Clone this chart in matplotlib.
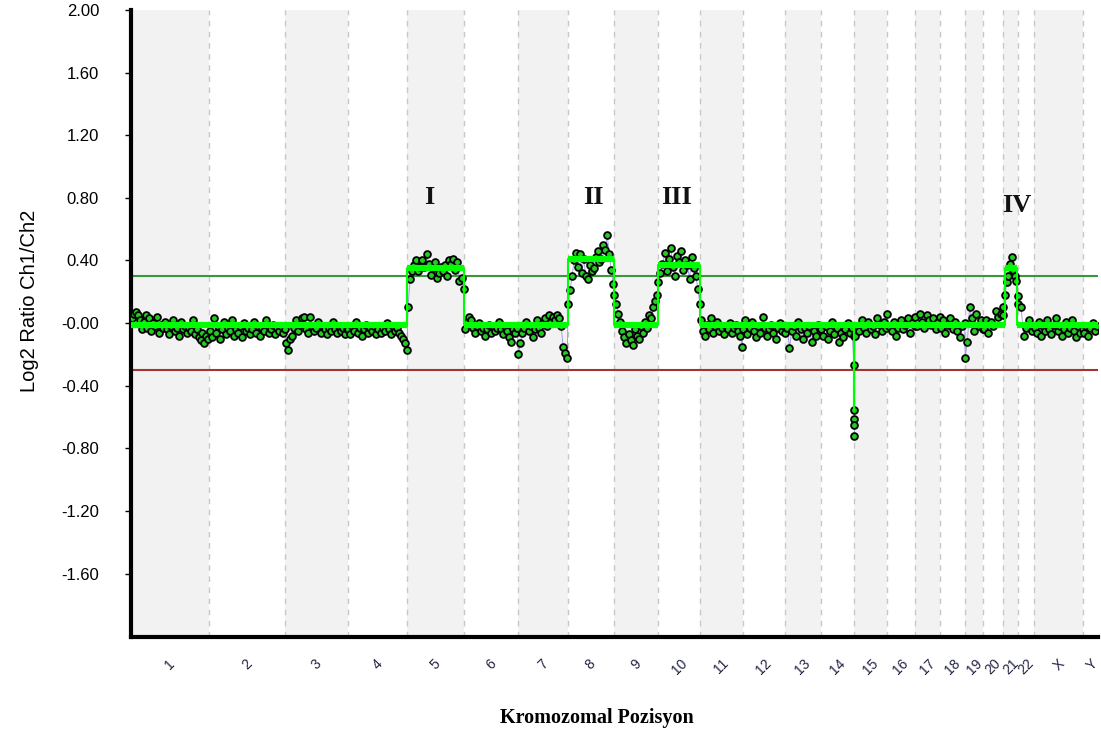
import numpy as np
import matplotlib.pyplot as plt

# chromosome names and lengths (Mb)
chroms = ['1', '2', '3', '4', '5', '6', '7', '8', '9', '10', '11', '12',
          '13', '14', '15', '16', '17', '18', '19', '20', '21', '22', 'X', 'Y']
chrom_len = [249.3, 243.2, 198.0, 191.2, 180.9, 171.1, 159.1, 146.4, 141.2,
             135.5, 135.0, 133.9, 115.2, 107.3, 102.5, 90.4, 81.2, 78.1,
             59.1, 63.0, 48.1, 51.3, 155.3, 59.4]

# log2 ratio of the probes, per chromosome, in order along the chromosome
probe_vals = {
    '1': [0.03, 0.06, 0.07, 0.05, 0.02, -0.04, 0.01, 0.05, -0.03, 0.03, -0.05, 0.00, -0.02,
          0.04, -0.06, -0.01, -0.03, 0.01, -0.04, -0.07, -0.02, 0.02, -0.05, -0.03, -0.08,
          0.01, -0.04, -0.02, -0.06, -0.03, -0.05, 0.02, -0.07, -0.04, -0.09, -0.11, -0.06,
          -0.13, -0.08, -0.10],
    '2': [-0.05, -0.09, 0.03, -0.06, -0.02, -0.10, -0.04, 0.01, -0.07, -0.03, -0.05, 0.02,
          -0.08, -0.04, -0.06, -0.02, -0.09, 0.00, -0.05, -0.03, -0.07, -0.04, 0.01, -0.06,
          -0.02, -0.08, -0.03, -0.05, 0.02, -0.06, -0.04, -0.01, -0.07, -0.03, -0.05, -0.02,
          -0.06, -0.04],
    '3': [-0.13, -0.17, -0.10, -0.08, -0.03, 0.02, -0.05, -0.01, 0.03, 0.04, -0.04, -0.06,
          0.04, -0.02, -0.05, -0.03, 0.01, -0.06, -0.02, -0.04, -0.07, -0.03, -0.05, 0.01,
          -0.04, -0.06, -0.02, -0.05, -0.03, -0.07, -0.04],
    '4': [-0.04, -0.07, -0.02, -0.05, 0.01, -0.06, -0.03, -0.08, -0.04, -0.01, -0.06, -0.03,
          -0.05, -0.02, -0.07, -0.04, -0.06, -0.03, -0.05, 0.00, -0.04, -0.07, -0.02, -0.05,
          -0.03, -0.06, -0.08, -0.10, -0.13, -0.17],
    '5': [0.10, 0.28, 0.33, 0.37, 0.40, 0.33, 0.36, 0.40, 0.36, 0.44, 0.38, 0.31, 0.35, 0.39,
          0.29, 0.32, 0.36, 0.33, 0.37, 0.30, 0.40, 0.38, 0.41, 0.34, 0.39, 0.27, 0.29, 0.22],
    '6': [-0.04, 0.01, 0.04, 0.02, -0.03, -0.06, -0.02, 0.00, -0.05, -0.03, -0.08, -0.04,
          -0.01, -0.06, -0.02, -0.05, -0.03, 0.01, -0.04, -0.07, -0.02, -0.05, -0.09, -0.12,
          -0.04, -0.06, -0.03],
    '7': [-0.20, -0.13, -0.06, -0.03, 0.01, -0.05, -0.02, -0.09, -0.04, 0.02, -0.03, -0.06,
          0.00, 0.03, -0.02, 0.05, 0.01, 0.04, 0.02, 0.05, 0.03, -0.02, -0.15, -0.19, -0.22],
    '8': [0.12, 0.21, 0.30, 0.40, 0.45, 0.36, 0.44, 0.32, 0.41, 0.30, 0.28, 0.37, 0.33, 0.35,
          0.42, 0.46, 0.39, 0.41, 0.50, 0.47, 0.56, 0.44, 0.34, 0.25],
    '9': [0.18, 0.12, 0.06, 0.01, -0.05, -0.09, -0.13, -0.07, -0.11, -0.14, -0.04, -0.08,
          -0.10, -0.02, -0.06, 0.01, -0.03, 0.05, 0.03, 0.10, 0.14, 0.18],
    '10': [0.26, 0.32, 0.38, 0.45, 0.33, 0.41, 0.48, 0.36, 0.30, 0.43, 0.39, 0.46, 0.34,
           0.40, 0.37, 0.28, 0.42, 0.35, 0.30, 0.22, 0.12],
    '11': [0.02, -0.05, -0.08, -0.01, -0.04, 0.03, -0.06, -0.02, 0.01, -0.05, -0.03, -0.07,
           -0.02, -0.04, 0.00, -0.06, -0.03, -0.01, -0.05, -0.08, -0.15],
    '12': [-0.04, 0.02, -0.07, -0.03, 0.01, -0.05, -0.09, -0.02, -0.06, 0.04, -0.03, -0.08,
           -0.04, -0.01, -0.06, -0.10, -0.03, 0.00, -0.05, -0.02],
    '13': [-0.06, -0.03, -0.16, -0.05, -0.02, -0.08, 0.01, -0.04, -0.10, -0.03, -0.06,
           -0.02, -0.12, -0.05, -0.08, -0.01, -0.04],
    '14': [-0.04, -0.08, -0.02, -0.10, -0.05, 0.01, -0.07, -0.03, -0.12, -0.06, -0.09,
           -0.04, 0.00, -0.06, -0.03, -0.08],
    '15': [-0.08, -0.02, -0.05, 0.02, -0.03, -0.06, 0.01, -0.04, -0.02, -0.07, 0.03, -0.01,
           -0.05, 0.01, -0.03],
    '16': [0.06, -0.02, -0.05, 0.01, -0.08, -0.03, 0.02, -0.04, -0.01, 0.03, -0.06, 0.00,
           -0.02],
    '17': [0.04, -0.02, 0.06, 0.01, -0.03, 0.05, 0.02, -0.01, 0.03, -0.04, 0.01, 0.04],
    '18': [-0.03, 0.02, -0.06, -0.01, 0.03, -0.04, 0.01, -0.05, -0.09, -0.02, 0.00],
    '19': [-0.22, -0.12, 0.10, 0.03, -0.05, 0.06, -0.02, 0.02, -0.04],
    '20': [-0.04, 0.02, -0.06, 0.01, -0.02, 0.08, 0.04, 0.06, 0.10],
    '21': [0.05, 0.18, 0.26, 0.30, 0.38, 0.42, 0.34, 0.30, 0.27, 0.12],
    '22': [0.17, 0.10, -0.08, -0.03, 0.02, -0.05, -0.02],
    'X': [-0.03, -0.06, 0.01, -0.08, -0.02, -0.05, 0.02, -0.04, -0.07, -0.01, 0.03, -0.05,
          -0.02, -0.08, -0.04, 0.01, -0.06, -0.03, 0.02, -0.05, -0.09, -0.02, -0.06, -0.04],
    'Y': [-0.06, -0.02, -0.08, -0.03, 0.00, -0.05, -0.02],
}

# focal deletion at the end of chr14
dip_pos = [105.6, 106.2, 106.6, 106.9, 107.2]
dip_vals = [-0.27, -0.555, -0.61, -0.65, -0.72]

# segmentation (chromosome, start Mb, end Mb, mean log2 ratio)
seg_chrom = ['1', '2', '3', '4', '5', '6', '7', '8', '9', '10', '11', '12', '13',
             '14', '14', '15', '16', '17', '18', '19', '20', '21', '21', '21', '22', 'X', 'Y']
seg_start = [0, 0, 0, 0, 0, 0, 0, 0, 0, 0, 0, 0, 0,
             0, 105.5, 0, 0, 0, 0, 0, 0, 0, 5.0, 44.5, 0, 0, 0]
seg_end = [249.3, 243.2, 198.0, 191.2, 180.9, 171.1, 159.1, 146.4, 141.2, 135.5, 135.0,
           133.9, 115.2, 105.5, 107.3, 102.5, 90.4, 81.2, 78.1, 59.1, 63.0, 5.0, 44.5,
           48.1, 51.3, 155.3, 59.4]
seg_mean = [-0.01, -0.01, -0.01, -0.01, 0.35, -0.01, -0.01, 0.41, -0.01, 0.37, -0.01,
            -0.01, -0.01, -0.01, -0.555, -0.01, -0.01, -0.01, -0.01, -0.01, -0.01, -0.01,
            0.35, -0.01, -0.01, -0.01, -0.01]

gain_thr = 0.3
loss_thr = -0.3

labels = ['I', 'II', 'III', 'IV']
label_x = [950, 1475, 1740, 2825]
label_y = [0.80, 0.80, 0.80, 0.75]

offsets = np.concatenate([[0], np.cumsum(chrom_len)[:-1]])
off = dict(zip(chroms, offsets))
clen = dict(zip(chroms, chrom_len))

fig = plt.figure(figsize=(11.01, 7.37), dpi=100)
ax = fig.add_axes([131 / 1101, 1 - 637 / 737, (1098 - 131) / 1101, (637 - 10) / 737])

# alternating chromosome bands
for i, c in enumerate(chroms):
    if i % 2 == 0:
        ax.axvspan(off[c], off[c] + clen[c], color='#f2f2f2', lw=0, zorder=0)
    if i > 0:
        ax.axvline(off[c], color='#c8c8c8', lw=1, ls=(0, (4, 4)), zorder=1)

# probes
xs, ys = [], []
for c in chroms:
    v = probe_vals[c]
    pos = np.linspace(clen[c] * 0.01, clen[c] * 0.99, len(v))
    if c == 'Y':
        pos = np.linspace(2, 45, len(v))
    xs.extend(off[c] + pos)
    ys.extend(v)
    if c == '14':
        xs.extend(off[c] + np.array(dip_pos))
        ys.extend(dip_vals)
xs = np.array(xs)
ys = np.array(ys)
order = np.argsort(xs, kind='stable')
ax.plot(xs[order], ys[order], color='#7b7bdd', lw=0.7, alpha=0.7, zorder=2)
ax.scatter(xs, ys, s=24, facecolor='#22cc22', edgecolor='black', linewidths=1.3, zorder=3)

# thresholds
ax.axhline(gain_thr, color='#3c963c', lw=1.5, zorder=2)
ax.axhline(loss_thr, color='#a33434', lw=1.5, zorder=2)

# segmentation line
step_x, step_y = [], []
for c, s, e, m in zip(seg_chrom, seg_start, seg_end, seg_mean):
    step_x += [off[c] + s, off[c] + e]
    step_y += [m, m]
    ax.plot([off[c] + s, off[c] + e], [m, m], color='#00ff00', lw=4.5,
            solid_capstyle='butt', zorder=4)
ax.plot(step_x, step_y, color='#00ff00', lw=1.5, zorder=4)

for t, x, y in zip(labels, label_x, label_y):
    ax.text(x, y, t, ha='center', va='center', fontsize=19, fontweight='bold',
            family='Liberation Serif', color='#111111', zorder=5)

ax.set_xlim(0, 3084)
ax.set_ylim(-2.005, 2.0)
yt = np.arange(-1.6, 2.01, 0.4)
ax.set_yticks(yt)
ax.set_yticklabels(['-0.00' if abs(v) < 1e-9 else '%.2f' % v for v in yt],
                   family='Liberation Sans', fontsize=12)
ax.tick_params(axis='y', length=4, width=1, pad=19, direction='out')
ax.set_xticks(offsets + np.array(chrom_len) / 2)
ax.set_xticklabels(chroms, rotation=45, ha='center', va='top',
                   family='Liberation Sans', fontsize=10, color='#222244')
ax.tick_params(axis='x', length=0, pad=14)

for s in ['top', 'right']:
    ax.spines[s].set_visible(False)
for s in ['left', 'bottom']:
    ax.spines[s].set_linewidth(3)
    ax.spines[s].set_color('black')

fig.text(30 / 1101, 1 - 301 / 737, 'Log2 Ratio Ch1/Ch2', rotation=90, ha='center',
         va='center', family='Liberation Sans', fontsize=14.5)
fig.text(597 / 1101, 1 - 718 / 737, 'Kromozomal Pozisyon', ha='center', va='center',
         family='Liberation Serif', fontweight='bold', fontsize=14.5)

fig.savefig('out.png', dpi=100)
